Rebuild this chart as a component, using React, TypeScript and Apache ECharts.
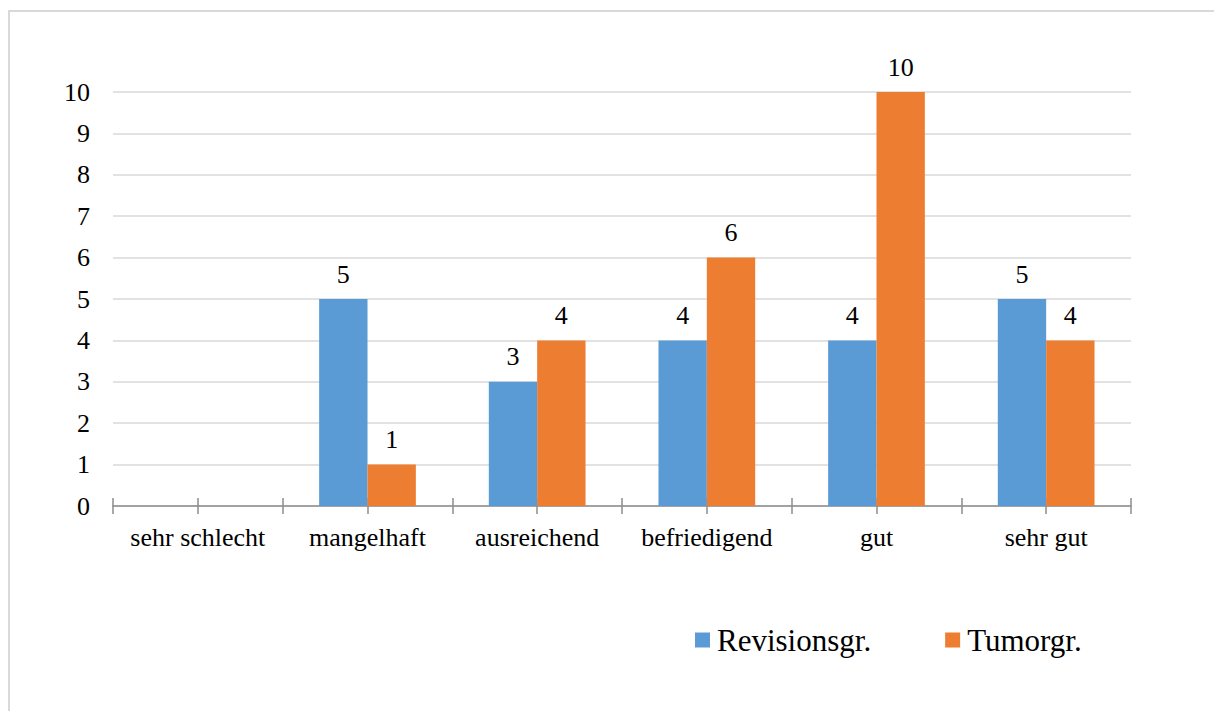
import React, { useEffect, useRef } from "react";
import * as echarts from "echarts";

const categories = ["sehr schlecht", "mangelhaft", "ausreichend", "befriedigend", "gut", "sehr gut"];
const revisionValues = [0, 5, 3, 4, 4, 5];
const tumorValues = [0, 1, 4, 6, 10, 4];
const seriesNames = ["Revisionsgr.", "Tumorgr."];
const yTicks = { min: 0, max: 10, interval: 1 };

const FONT = "Liberation Serif";
const BLUE = "#5B9BD5";
const ORANGE = "#ED7D31";

export default function App() {
  const ref = useRef<HTMLDivElement>(null);

  useEffect(() => {
    if (!ref.current) return;
    const chart = echarts.init(ref.current, undefined, { renderer: "svg" });

    const label = {
      show: true,
      position: "top",
      distance: 12,
      color: "#000",
      fontFamily: FONT,
      fontSize: 26,
      formatter: (p: any) => (p.value === 0 ? "" : String(p.value)),
    };

    // hidden value axes that only draw the crossing tick marks every half category
    const tickAxis = (inside: boolean, showLine: boolean) => ({
      type: "value",
      position: "bottom",
      min: 0,
      max: categories.length,
      interval: 0.5,
      axisLabel: { show: false },
      splitLine: { show: false },
      axisLine: { show: showLine, lineStyle: { color: "#8C8C8C", width: 1.5 } },
      axisTick: { show: true, inside, length: 8, lineStyle: { color: "#8C8C8C", width: 1.5 } },
    });

    chart.setOption({
      animation: false,
      backgroundColor: "#fff",
      textStyle: { fontFamily: FONT },
      graphic: [
        {
          type: "rect",
          shape: { x: 9, y: 11, width: 1220, height: 720 },
          style: { fill: "none", stroke: "#D9D9D9", lineWidth: 2 },
          silent: true,
          z: -1,
        },
      ],
      grid: { left: 113, right: 83, top: 92, bottom: 205, containLabel: false },
      legend: {
        left: 695,
        top: 622,
        padding: 0,
        icon: "rect",
        itemWidth: 15,
        itemHeight: 15,
        itemGap: 74,
        data: seriesNames,
        textStyle: {
          fontFamily: FONT,
          fontSize: 31,
          color: "#000",
          lineHeight: 36,
          padding: [0, 0, 0, 2],
        },
      },
      xAxis: [
        {
          type: "category",
          data: categories,
          position: "bottom",
          axisLine: { show: false },
          axisTick: { show: false },
          axisLabel: { color: "#000", fontFamily: FONT, fontSize: 26, margin: 18, interval: 0 },
        },
        tickAxis(true, true),
        tickAxis(false, false),
      ],
      yAxis: {
        type: "value",
        min: yTicks.min,
        max: yTicks.max,
        interval: yTicks.interval,
        axisLine: { show: false },
        axisTick: { show: false },
        axisLabel: { color: "#000", fontFamily: FONT, fontSize: 26, margin: 23 },
        splitLine: { lineStyle: { color: "#D9D9D9", width: 1.5 } },
      },
      series: [
        {
          name: seriesNames[0],
          type: "bar",
          xAxisIndex: 0,
          data: revisionValues,
          itemStyle: { color: BLUE },
          barGap: "0%",
          barCategoryGap: "43%",
          label,
        },
        {
          name: seriesNames[1],
          type: "bar",
          xAxisIndex: 0,
          data: tumorValues,
          itemStyle: { color: ORANGE },
          barGap: "0%",
          barCategoryGap: "43%",
          label,
        },
      ],
    });

    return () => chart.dispose();
  }, []);

  return (
    <div
      ref={ref}
      style={{ position: "fixed", left: 0, top: 0, width: 1214, height: 711, background: "#fff" }}
    />
  );
}
